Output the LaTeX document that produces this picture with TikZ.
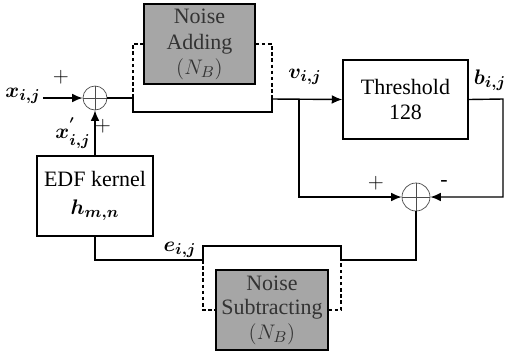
\documentclass[tikz,border=0pt]{standalone}
\usepackage{amsmath,amssymb}
\usepackage{fontspec}
\setmainfont{Liberation Serif}
\usepackage{tikz}
\usetikzlibrary{arrows.meta,calc,positioning}

\begin{document}
\begin{tikzpicture}[
  x=0.02cm, y=-0.02cm,
  font=\fontsize{12.5}{14}\selectfont,
  block/.style={draw, thick, minimum height=1.6cm, align=center, inner sep=0pt},
  noise/.style={block, fill=black!35, text=black!80},
  adder/.style={draw, circle, black!70, inner sep=0pt},
  arr/.style={-{Latex[length=6pt,width=5pt]}, thick},
  wire/.style={thick},
  bypass/.style={thick, dashed, dash pattern=on 2pt off 1.5pt},
  sig/.style={font=\fontsize{12.5}{14}\selectfont\boldmath}
]
\useasboundingbox (0,0) rectangle (505,353);

% blocks
\node[noise, minimum width=2.22cm] (nadd) at (199.5,44) {Noise\\[1pt] Adding\\[0pt] $(N_B)$};
\node[block, minimum width=2.5cm, minimum height=1.58cm] (thr) at (405.5,99.5) {Threshold\\[0pt] 128};
\node[block, minimum width=2.32cm] (edf) at (95,196) {EDF kernel\\[2pt] {\boldmath$h_{m,n}$}};
\node[noise, minimum width=2.24cm] (nsub) at (272,310) {Noise\\[0pt] Subtracting\\[0pt] $(N_B)$};

% adders
\node[adder, minimum size=0.48cm] (s1) at (95,98) {};
\draw[black!70] (s1.north) -- (s1.south) (s1.west) -- (s1.east);
\node[adder, minimum size=0.56cm] (s2) at (416,197) {};
\draw[black!70] (s2.north) -- (s2.south) (s2.west) -- (s2.east);

% helper points
\coordinate (xin) at (43,98);
\coordinate (split1) at (133,98);
\coordinate (join1) at (272,99);
\coordinate (tap) at (299,99);
\coordinate (bout) at (503,99);
\coordinate (join2) at (341,260);
\coordinate (split2) at (203,260);

% forward path
\draw[arr] (xin) -- (s1.west);
\draw[arr] (edf.north) -- (s1.south);
\draw[wire] (s1.east) -- (split1) -- ++(0,14) -| (join1);
\draw[bypass] (split1) |- (nadd.west);
\draw[bypass] (nadd.east) -| (join1);
\draw[arr] (join1) -- (thr.west);

% error path
\draw[arr] (tap) |- (s2.west);
\draw[arr] (thr.east) -- (bout) |- (s2.east);
\draw[wire] (s2.south) |- (join2) -- ++(0,-14) -| (split2) -- (split2 -| edf.south) -- (edf.south);
\draw[bypass] (split2) |- (nsub.west);
\draw[bypass] (nsub.east) -| (join2);

% labels
\node[sig] (lxin) at (23,96) {$x_{i,j}$};
\node (lp1) at (61,77) {$+$};
\node[sig] (lxp) at (73,133) {$x^{'}_{i,j}$};
\node (lp2) at (103,126) {$+$};
\node[sig] (lv) at (305,77) {$v_{i,j}$};
\node[sig] (lb) at (490,80) {$b_{i,j}$};
\node (lp3) at (376,183) {$+$};
\node (lm) at (444,183) {-};
\node[sig] (le) at (180,250) {$e_{i,j}$};
\end{tikzpicture}
\end{document}
